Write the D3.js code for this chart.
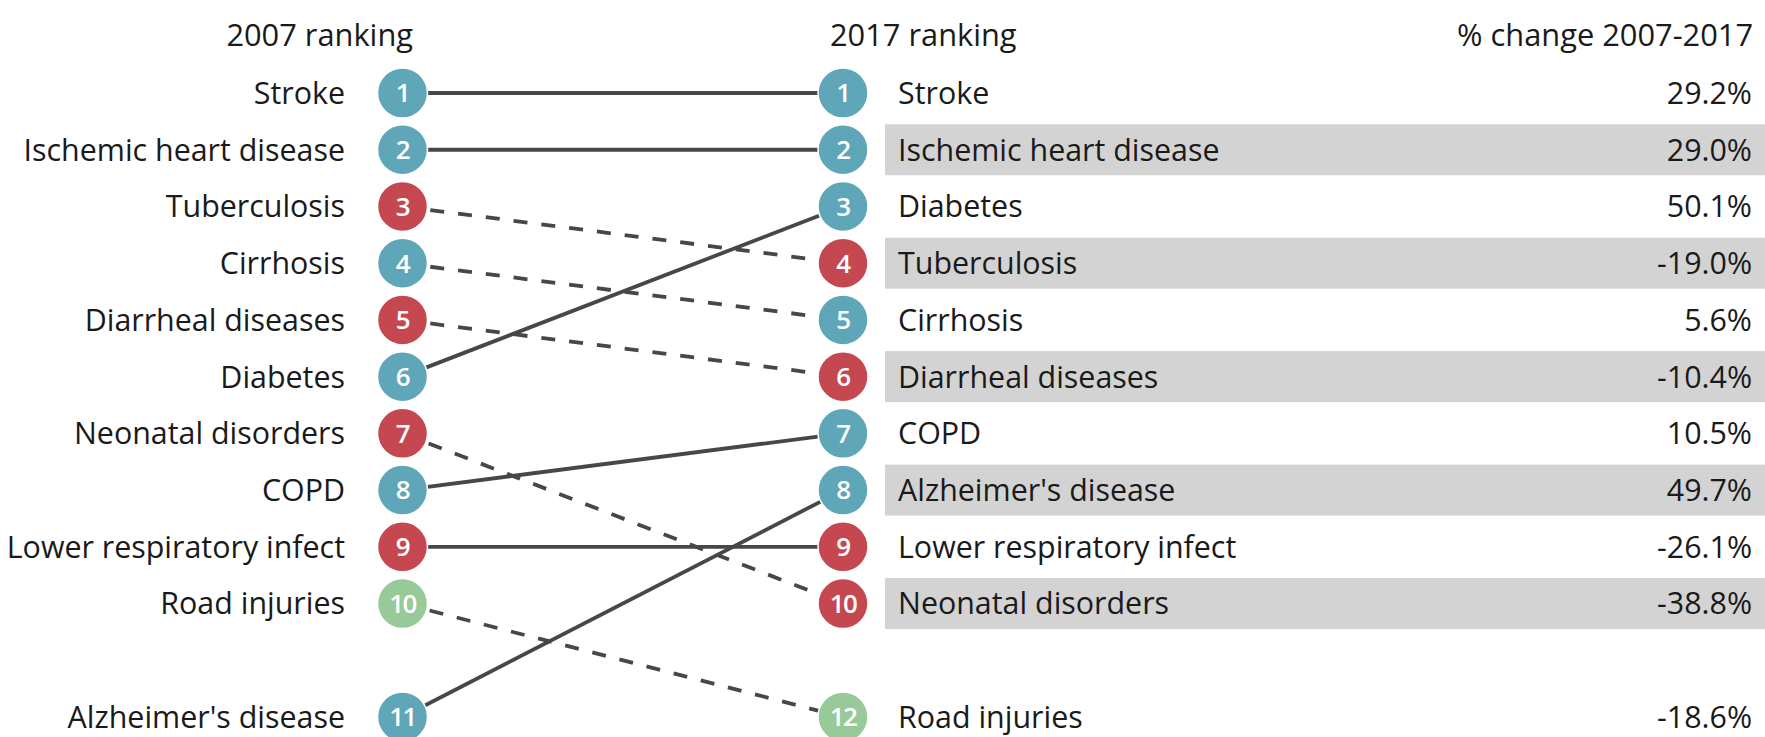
<!DOCTYPE html>
<html>
<head>
<meta charset="utf-8">
<script src="https://cdn.jsdelivr.net/npm/d3@7"></script>
<style>
  html, body { margin: 0; padding: 0; background: #fff; }
  svg { display: block; }
  text { font-family: "Open Sans", "Noto Sans", sans-serif; fill: #1a1a1a; }
</style>
</head>
<body>
<svg id="chart" width="1765" height="737"></svg>
<script>
const causes = ["Stroke", "Ischemic heart disease", "Tuberculosis", "Cirrhosis", "Diarrheal diseases",
  "Diabetes", "Neonatal disorders", "COPD", "Lower respiratory infect", "Road injuries", "Alzheimer's disease"];
const rank2007 = [1, 2, 3, 4, 5, 6, 7, 8, 9, 10, 11];
const rank2017 = [1, 2, 4, 5, 6, 3, 10, 7, 9, 12, 8];
const groups = ["ncd", "ncd", "cd", "ncd", "cd", "ncd", "cd", "ncd", "cd", "inj", "ncd"];
const pctChange = [29.2, 29.0, -19.0, 5.6, -10.4, 50.1, -38.8, 10.5, -26.1, -18.6, 49.7];
const headers = ["2007 ranking", "2017 ranking", "% change 2007-2017"];

const colorScale = d3.scaleOrdinal().domain(["ncd", "cd", "inj"]).range(["#5fa6b9", "#c5474f", "#98c998"]);

const data = causes.map((c, i) => ({
  name: c, r07: rank2007[i], r17: rank2017[i], group: groups[i], pct: pctChange[i]
}));

const slot = r => (r > 10 ? 12 : r);
const y = d3.scaleLinear().domain([1, 12]).range([93, 717]);
const x = d3.scalePoint().domain(["2007", "2017"]).range([402.5, 843]);
const R = 25;
const FS = 30.4;
const HS = 30.8;

const svg = d3.select("#chart");

// bands on even rows of 2017 ranking
const bandData = data.filter(d => d.r17 <= 10 && d.r17 % 2 === 0);
svg.append("g").selectAll("rect").data(bandData).join("rect")
  .attr("x", 885).attr("width", 1765 - 885)
  .attr("y", d => y(slot(d.r17)) - 25.5).attr("height", 51)
  .attr("fill", "#d3d3d3");

// headers
svg.append("text").attr("x", 413).attr("y", 46).attr("text-anchor", "end")
  .attr("font-size", HS).text(headers[0]);
svg.append("text").attr("x", 830).attr("y", 46).attr("text-anchor", "start")
  .attr("font-size", HS).text(headers[1]);
svg.append("text").attr("x", 1753).attr("y", 46).attr("text-anchor", "end")
  .attr("font-size", HS).text(headers[2]);

// lines
svg.append("g").selectAll("line").data(data).join("line")
  .attr("x1", x("2007")).attr("y1", d => y(slot(d.r07)))
  .attr("x2", x("2017")).attr("y2", d => y(slot(d.r17)))
  .attr("stroke", "#474747").attr("stroke-width", 3.8)
  .attr("stroke-dasharray", d => d.r17 > d.r07 ? "14,14" : null);

// circles
function circles(key, rankKey) {
  const g = svg.append("g").selectAll("g").data(data).join("g")
    .attr("transform", d => `translate(${x(key)},${y(slot(d[rankKey]))})`);
  g.append("circle").attr("r", R).attr("fill", d => colorScale(d.group))
    .attr("stroke", "#fff").attr("stroke-width", 1.5);
  g.append("text").attr("text-anchor", "middle").attr("dy", "0.36em")
    .attr("font-size", 26).attr("font-weight", 600).style("fill", "#fff").attr("letter-spacing", -1.5)
    .text(d => d[rankKey]);
}
circles("2007", "r07");
circles("2017", "r17");

// left labels
svg.append("g").selectAll("text").data(data).join("text")
  .attr("x", 345).attr("y", d => y(slot(d.r07))).attr("dy", "0.36em")
  .attr("text-anchor", "end").attr("font-size", FS).text(d => d.name);

// right labels
svg.append("g").selectAll("text").data(data).join("text")
  .attr("x", 898).attr("y", d => y(slot(d.r17))).attr("dy", "0.36em")
  .attr("text-anchor", "start").attr("font-size", FS).text(d => d.name);

// values
svg.append("g").selectAll("text").data(data).join("text")
  .attr("x", 1752).attr("y", d => y(slot(d.r17))).attr("dy", "0.36em")
  .attr("text-anchor", "end").attr("font-size", FS).text(d => d.pct.toFixed(1) + "%");
</script>
</body>
</html>
